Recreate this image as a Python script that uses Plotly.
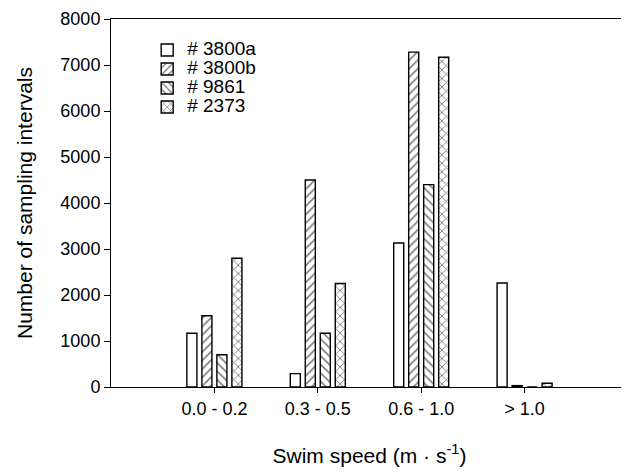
import plotly.graph_objects as go

categories = ["0.0 - 0.2", "0.3 - 0.5", "0.6 - 1.0", "> 1.0"]
series_names = ["# 3800a", "# 3800b", "# 9861", "# 2373"]
v_3800a = [1170, 290, 3130, 2260]
v_3800b = [1550, 4500, 7280, 30]
v_9861 = [700, 1170, 4400, 0]
v_2373 = [2800, 2250, 7170, 80]
y_ticks = [0, 1000, 2000, 3000, 4000, 5000, 6000, 7000, 8000]

values = [v_3800a, v_3800b, v_9861, v_2373]
patterns = ["", "/", "\\", "x"]

FONT = "Liberation Sans, Arial, sans-serif"

fig = go.Figure()
for name, vals, pat in zip(series_names, values, patterns):
    fig.add_trace(go.Bar(
        x=categories, y=vals,
        name='<span style="font-size:19px">' + name + '</span>',
        marker=dict(color="white",
                    line=dict(color="black", width=1.4),
                    pattern=dict(shape=pat, fgcolor="black", bgcolor="white",
                                 size=6, solidity=0.28)),
    ))

fig.update_layout(
    width=621, height=466,
    barmode="group", bargap=0.42, bargroupgap=0.33,
    paper_bgcolor="white", plot_bgcolor="white",
    margin=dict(l=103, r=1, t=11, b=87),
    font=dict(family=FONT, size=18, color="black"),
    showlegend=True,
    legend=dict(x=0.07, y=0.955, xanchor="left", yanchor="top",
                bgcolor="rgba(0,0,0,0)", font=dict(size=12, family=FONT),
                tracegroupgap=0, itemwidth=30),
    xaxis=dict(type="category", range=[-1, 4], showline=True, linecolor="black",
               linewidth=1, mirror=True, ticks="outside", ticklen=5,
               tickcolor="black", showgrid=False,
               title=dict(text="Swim speed (m · s<sup>-1</sup>)", font=dict(size=21), standoff=30),
               tickfont=dict(size=18)),
    yaxis=dict(range=[0, 8000], tickvals=y_ticks, showline=True, linecolor="black",
               linewidth=1, ticks="outside", ticklen=6, tickcolor="black",
               showgrid=False, zeroline=False,
               title=dict(text="Number of sampling intervals", font=dict(size=21), standoff=22),
               tickfont=dict(size=18)),
)

fig.write_html("out.html")
